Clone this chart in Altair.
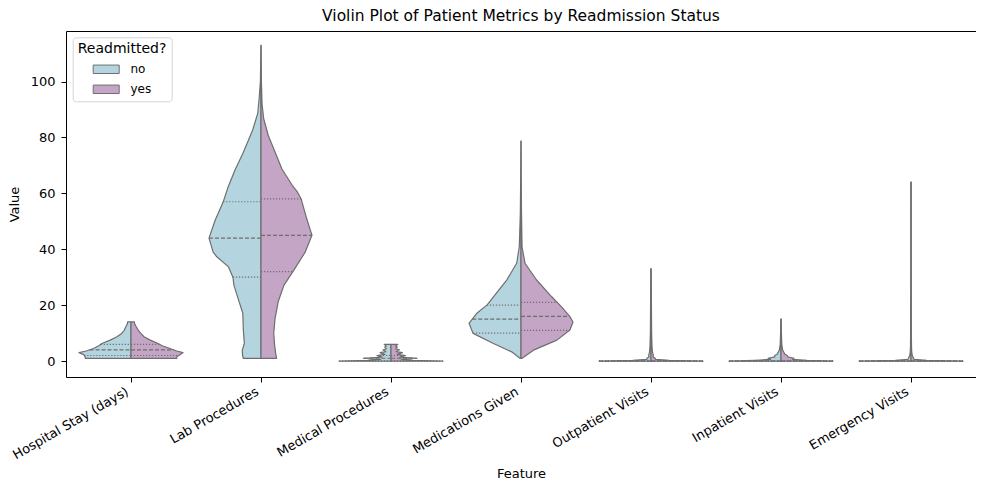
import json
import numpy as np
import pandas as pd
import altair as alt

FEATURES = ["Hospital Stay (days)", "Lab Procedures", "Medical Procedures",
            "Medications Given", "Outpatient Visits", "Inpatient Visits", "Emergency Visits"]
GROUPS = ["no", "yes"]
FILL_COLORS = ["#b4d4df", "#c5a5c5"]
EDGE = "#6e6e6e"
HALF = 0.4

# density profiles: values and relative half-widths (1 = widest)
HS_V = [1, 1.5, 2.3, 3.0, 3.6, 4.5, 5.5, 6.3, 7.5, 8.7, 9.9, 11, 12.3, 13.3, 14]
HS_NO = [0.88, 0.88, 0.91, 1.0, 0.86, 0.72, 0.62, 0.56, 0.40, 0.27, 0.18, 0.13, 0.10, 0.07, 0.065]
HS_YES = [0.88, 0.88, 0.94, 1.0, 0.88, 0.75, 0.60, 0.52, 0.37, 0.25, 0.19, 0.14, 0.10, 0.07, 0.065]

LAB_NO_V = [1, 2, 3.9, 6.3, 11.1, 17.1, 21.2, 27.1, 30, 33.8, 37.3, 39, 44, 50.5, 56.8, 62.4,
            68.4, 74.3, 79.1, 82.7, 88.6, 94.6, 100, 113]
LAB_NO_W = [0.34, 0.355, 0.36, 0.32, 0.34, 0.35, 0.42, 0.52, 0.54, 0.63, 0.85, 0.92, 1.0, 0.88,
            0.73, 0.63, 0.50, 0.35, 0.24, 0.16, 0.063, 0.033, 0.012, 0.0]
LAB_YES_V = [1, 3, 6, 10, 15.2, 21.2, 27.1, 33.1, 39, 45, 50.9, 58.1, 60.5, 62.9, 68.8, 74.8,
             80.7, 86.7, 92, 100, 113]
LAB_YES_W = [0.30, 0.28, 0.26, 0.245, 0.27, 0.33, 0.44, 0.65, 0.85, 0.98, 0.88, 0.77, 0.70,
             0.60, 0.40, 0.27, 0.14, 0.052, 0.02, 0.008, 0.0]

MP_V = [0, 0.3, 0.6, 1.0, 1.4, 2.0, 2.4, 3.0, 3.4, 4.0, 4.4, 5.0, 5.4, 6.0]
MP_NO = [1.0, 0.45, 0.2, 0.53, 0.17, 0.27, 0.12, 0.21, 0.10, 0.15, 0.09, 0.12, 0.09, 0.13]
MP_YES = [1.0, 0.42, 0.2, 0.50, 0.17, 0.28, 0.12, 0.22, 0.10, 0.16, 0.09, 0.12, 0.09, 0.13]

MED_NO_V = [1, 3.3, 6.3, 9.9, 13.5, 17.1, 20.1, 23, 29, 35, 40.9, 52.8, 65, 78.7]
MED_NO_W = [0.02, 0.18, 0.53, 0.92, 1.0, 0.85, 0.65, 0.53, 0.275, 0.083, 0.033, 0.013, 0.006, 0.0]
MED_YES_V = [1, 3.9, 7.5, 11.1, 14, 15.9, 19.4, 23, 29, 35, 40.9, 52.8, 65, 78.7]
MED_YES_W = [0.02, 0.24, 0.69, 0.94, 1.0, 0.94, 0.78, 0.59, 0.30, 0.077, 0.02, 0.01, 0.004, 0.0]

OUT_V = [0, 0.3, 0.6, 1, 1.5, 2, 3, 5, 10, 20, 33]
OUT_NO = [1.0, 0.35, 0.08, 0.08, 0.04, 0.045, 0.03, 0.02, 0.012, 0.008, 0.004]
OUT_YES = [1.0, 0.35, 0.09, 0.08, 0.04, 0.045, 0.03, 0.02, 0.012, 0.008, 0.004]

INP_V = [0, 0.3, 0.6, 1.0, 1.5, 2.0, 2.5, 3.0, 4, 6, 10, 15]
INP_NO = [1.0, 0.5, 0.2, 0.25, 0.12, 0.12, 0.07, 0.06, 0.03, 0.015, 0.008, 0.004]
INP_YES = [1.0, 0.5, 0.22, 0.25, 0.13, 0.12, 0.07, 0.06, 0.03, 0.015, 0.008, 0.004]

EMR_V = [0, 0.3, 0.6, 1, 2, 3, 5, 10, 30, 64]
EMR_NO = [1.0, 0.3, 0.06, 0.05, 0.025, 0.015, 0.01, 0.007, 0.005, 0.004]
EMR_YES = [1.0, 0.3, 0.06, 0.05, 0.025, 0.015, 0.01, 0.007, 0.005, 0.004]

PROFILES = [
    ((HS_V, HS_NO), (HS_V, HS_YES)),
    ((LAB_NO_V, LAB_NO_W), (LAB_YES_V, LAB_YES_W)),
    ((MP_V, MP_NO), (MP_V, MP_YES)),
    ((MED_NO_V, MED_NO_W), (MED_YES_V, MED_YES_W)),
    ((OUT_V, OUT_NO), (OUT_V, OUT_YES)),
    ((INP_V, INP_NO), (INP_V, INP_YES)),
    ((EMR_V, EMR_NO), (EMR_V, EMR_YES)),
]

# quartiles (Q1, median, Q3) per feature
Q_NO = [[2, 4, 6], [30, 44, 57], [0, 1, 2], [10, 15, 20], [0, 0, 0], [0, 0, 0], [0, 0, 0]]
Q_YES = [[2, 4, 6], [32, 45, 58], [0, 1, 2], [11, 16, 21], [0, 0, 0], [0, 0, 0], [0, 0, 0]]

rows = []
qrows = []
for i, name in enumerate(FEATURES):
    for g, (vs, ws) in zip(GROUPS, PROFILES[i]):
        for v, w in zip(vs, ws):
            if g == "no":
                xa, xb = i - HALF * w, i
            else:
                xa, xb = i, i + HALF * w
            rows.append(dict(key=f"{i}-{g}", group=g, v=v, xa=xa, xb=xb))
        qs = Q_NO[i] if g == "no" else Q_YES[i]
        for k, q in enumerate(qs):
            w = float(np.interp(q, vs, ws))
            if g == "no":
                xa, xb = i - HALF * w, i
            else:
                xa, xb = i, i + HALF * w
            qrows.append(dict(kind="median" if k == 1 else "quart", q=q, xa=xa, xb=xb))

df = pd.DataFrame(rows)
qdf = pd.DataFrame(qrows)

label_expr = json.dumps(FEATURES) + "[datum.value]"

xscale = alt.Scale(domain=[-0.5, 6.5], nice=False, zero=False)
yscale = alt.Scale(domain=[-5.7, 118.1], nice=False, zero=False)

areas = alt.Chart(df).mark_area(
    orient="horizontal", stroke=EDGE, strokeWidth=1.2, fillOpacity=1, strokeJoin="round"
).encode(
    y=alt.Y("v:Q", scale=yscale, axis=alt.Axis(values=[0, 20, 40, 60, 80, 100], title="Value",
                                              titlePadding=9, labelPadding=6)),
    x=alt.X("xa:Q", scale=xscale, stack=None,
            axis=alt.Axis(values=list(range(7)), labelExpr=label_expr, title="Feature",
                          labelAngle=-30, labelAlign="right", labelBaseline="top",
                          labelPadding=3, labelOffset=-7, titlePadding=6)),
    x2="xb:Q",
    color=alt.Color("group:N", scale=alt.Scale(domain=GROUPS, range=FILL_COLORS),
                    legend=alt.Legend(title="Readmitted?", orient="none", legendX=6.7, legendY=6.3)),
    detail="key:N",
)

med = alt.Chart(qdf).transform_filter(alt.datum.kind == "median").mark_rule(
    color=EDGE, strokeWidth=1.2, strokeDash=[4, 2]
).encode(x="xa:Q", x2="xb:Q", y="q:Q")

quart = alt.Chart(qdf).transform_filter(alt.datum.kind == "quart").mark_rule(
    color=EDGE, strokeWidth=1.2, strokeDash=[1.2, 1.8]
).encode(x="xa:Q", x2="xb:Q", y="q:Q")

chart = alt.layer(areas, med, quart).properties(
    width=910, height=346,
    title=alt.TitleParams("Violin Plot of Patient Metrics by Readmission Status",
                          fontSize=15.5, fontWeight="normal", color="black", offset=7),
    padding={"left": 58, "top": 23, "right": 0, "bottom": 105},
    autosize=alt.AutoSizeParams(type="none"),
).configure(font="DejaVu Sans").configure_view(
    stroke="black", strokeWidth=1
).configure_axis(
    grid=False, domain=False, tickColor="black", tickSize=5, tickWidth=1,
    labelColor="black", labelFontSize=13, titleColor="black", titleFontSize=13,
    titleFontWeight="normal", labelFont="DejaVu Sans", titleFont="DejaVu Sans",
).configure_legend(
    titleFontSize=14, titleFontWeight="normal", titleColor="black", labelFontSize=12,
    labelColor="black", padding=5, titlePadding=6, rowPadding=6,
    symbolType="M-2,-0.65H2V0.65H-2Z", symbolSize=169, symbolStrokeColor=EDGE,
    symbolStrokeWidth=1, symbolOpacity=1, symbolOffset=21.5, labelOffset=17.2,
    fillColor="white", strokeColor="#d6d6d6", cornerRadius=3,
)

chart.save("out.html", embed_options={"renderer": "svg", "actions": False})
